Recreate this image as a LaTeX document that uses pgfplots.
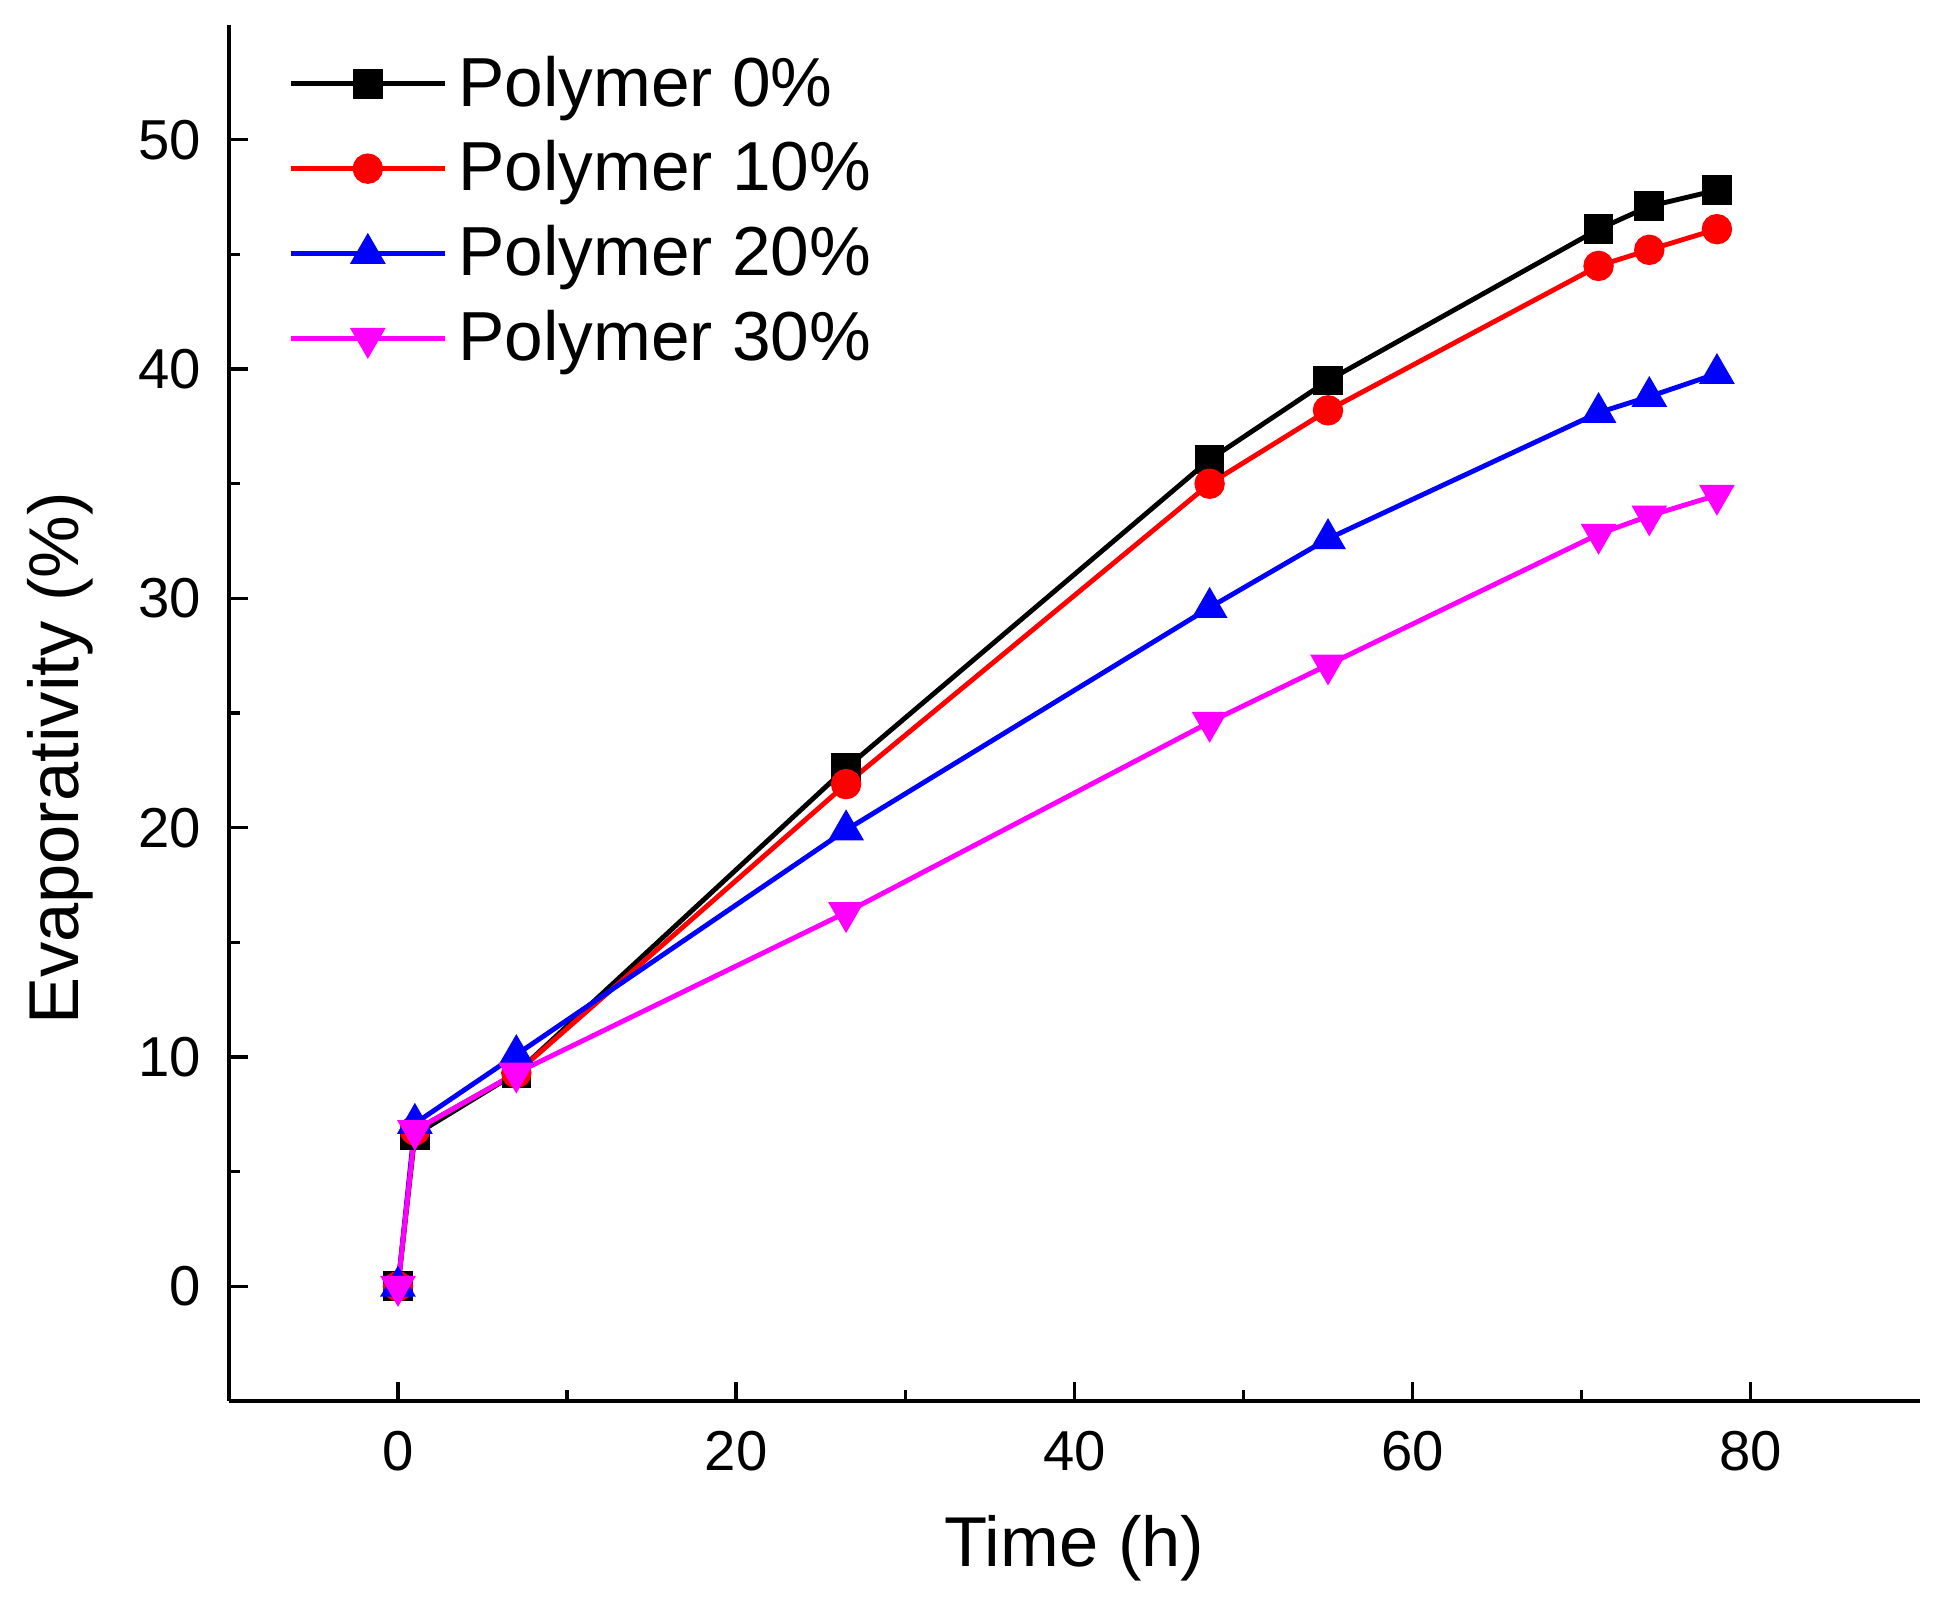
\documentclass[border=0pt]{standalone}
\usepackage{fontspec}
\setmainfont{Liberation Sans}
\usepackage{pgfplots}
\pgfplotsset{compat=1.18}
\definecolor{pblack}{RGB}{0,0,0}
\definecolor{pred}{RGB}{255,0,0}
\definecolor{pblue}{RGB}{0,0,255}
\definecolor{pmag}{RGB}{255,0,255}

\begin{document}
\begin{tikzpicture}
  \begin{axis}[
    width=450.7pt, height=366.7pt,
    scale only axis,
    xmin=-10, xmax=90,
    ymin=-5, ymax=55,
    axis x line=bottom,
    axis y line=left,
    axis line style={-, line width=1pt},
    xtick={0,20,...,80},
    ytick={0,10,...,50},
    minor x tick num=1,
    minor y tick num=1,
    tick align=inside,
    major tick length=5pt,
    minor tick length=3pt,
    tick style={line width=0.9pt, black},
    ticklabel style={font=\fontsize{15}{18}\selectfont},
    xticklabel style={yshift=-4.5pt},
    yticklabel style={xshift=-4pt},
    /pgf/number format/assume math mode=true,
    xlabel={Time (h)},
    ylabel={Evaporativity (\%)},
    label style={font=\fontsize{18.8}{22}\selectfont},
    xlabel style={yshift=-5pt},
    ylabel style={at={(ticklabel cs:0.467)}, yshift=5pt},
    legend style={
      at={(axis cs:-10,55)}, anchor=north west,
      xshift=12.7pt, yshift=-4pt,
      draw=none, fill=none,
      font=\fontsize{18.5}{22}\selectfont,
      row sep=3.7pt,
      cells={anchor=west},
      nodes={inner xsep=3pt},
    },
    legend image code/.code={
      \draw[mark repeat=2, mark phase=2]
        plot coordinates {(0cm,0cm) (0.72cm,0cm) (1.44cm,0cm)};
    },
    every axis plot/.append style={line width=1.3pt},
  ]
    \addplot[pblack, mark=square*, mark size=3.3pt] coordinates {
      (0,0) (1,6.6) (7,9.3) (26.5,22.6) (48,36.05) (55,39.5) (71,46.1) (74,47.1) (78,47.8)
    };
    \addlegendentry{Polymer 0\%}
    \addplot[pred, mark=*, mark size=3.4pt] coordinates {
      (0,0) (1,6.8) (7,9.3) (26.5,21.9) (48,35.0) (55,38.2) (71,44.5) (74,45.2) (78,46.1)
    };
    \addlegendentry{Polymer 10\%}
    \addplot[pblue, mark=triangle*, mark size=4.2pt] coordinates {
      (0,0) (1,7.1) (7,10.1) (26.5,19.9) (48,29.6) (55,32.6) (71,38.1) (74,38.8) (78,39.8)
    };
    \addlegendentry{Polymer 20\%}
    \addplot[pmag, mark=triangle*, mark size=4.2pt, mark options={rotate=180}] coordinates {
      (0,0) (1,6.8) (7,9.3) (26.5,16.3) (48,24.6) (55,27.1) (71,32.8) (74,33.6) (78,34.5)
    };
    \addlegendentry{Polymer 30\%}
    \coordinate (bl) at (rel axis cs:0,0);
    \coordinate (tr) at (rel axis cs:1,1);
  \end{axis}
  \path (bl) ++(-61pt,-53pt);
  \path (tr) ++(8.3pt,6.7pt);
\end{tikzpicture}
\end{document}
